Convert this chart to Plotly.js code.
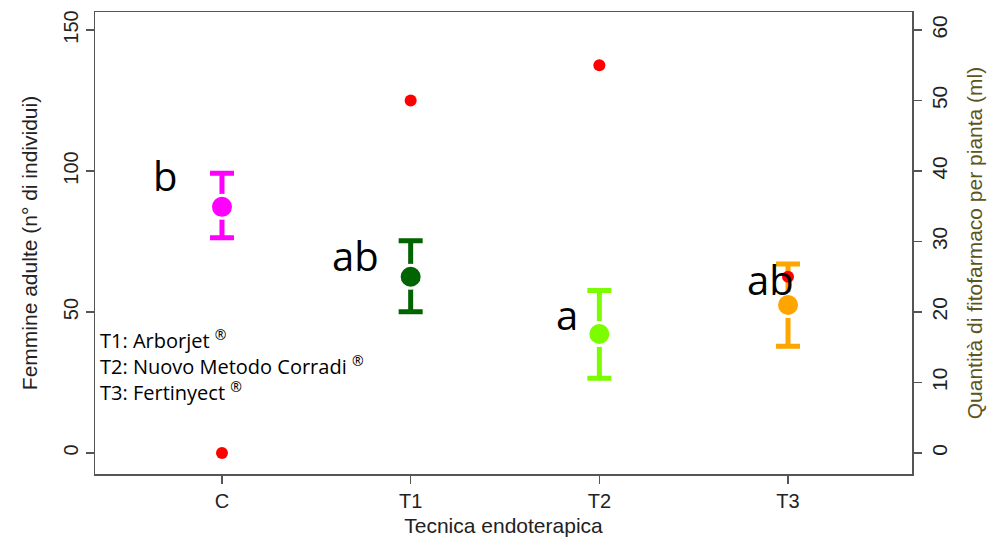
<!DOCTYPE html>
<html><head><meta charset="utf-8">
<script src="https://cdn.plot.ly/plotly-3.0.1.min.js"></script>
<style>html,body{margin:0;padding:0;background:#fff}#chart{width:989px;height:537px}</style>
</head><body><div id="chart"></div>
<script>
var categories = ["C", "T1", "T2", "T3"];
var catIndex = [0, 1, 2, 3];
var meanFemale = [87.3, 62.5, 42.2, 52.5];
var upperFemale = [99.2, 75.3, 57.6, 67.0];
var lowerFemale = [76.3, 50.1, 26.5, 37.9];
var doseMl = [0, 50, 55, 25];
var groupColors = ["#FF00FF", "#006400", "#7CFC00", "#FFA500"];
var letters = ["b", "ab", "a", "ab"];
var legendLines = ["T1: Arborjet <sup>®</sup>", "T2: Nuovo Metodo Corradi <sup>®</sup>", "T3: Fertinyect <sup>®</sup>"];

var traces = [];
for (var i = 0; i < categories.length; i++) {
  traces.push({
    type: "scatter", mode: "markers", x: [catIndex[i]], y: [meanFemale[i]],
    xaxis: "x", yaxis: "y", showlegend: false, hoverinfo: "skip",
    marker: {color: groupColors[i], size: 23, line: {color: "#ffffff", width: 3}},
    error_y: {type: "data", symmetric: false,
      array: [upperFemale[i] - meanFemale[i]], arrayminus: [meanFemale[i] - lowerFemale[i]],
      color: groupColors[i], thickness: 5, width: 12}
  });
}
traces.push({
  type: "scatter", mode: "markers", x: catIndex, y: doseMl, xaxis: "x", yaxis: "y2",
  showlegend: false, hoverinfo: "skip", marker: {color: "#FF0000", size: 12}
});

var letterPos = [[-0.302, 98.5], [0.705, 70.2], [1.828, 49.2], [2.909, 61.5]];
var annotations = [];
for (var j = 0; j < letters.length; j++) {
  annotations.push({xref: "x", yref: "y", x: letterPos[j][0], y: letterPos[j][1], text: letters[j],
    showarrow: false, font: {family: "Open Sans", size: 40, color: "#000"}});
}
annotations.push({xref: "paper", yref: "y", x: 0.004, y: 31, xanchor: "left", yanchor: "middle", align: "left",
  text: legendLines.join("<br>"), showarrow: false, font: {family: "Open Sans", size: 20, color: "#000"}});

var fam = "Liberation Sans, Arial";
var layout = {
  width: 989, height: 537,
  margin: {l: 95, r: 77, t: 12, b: 63},
  paper_bgcolor: "#fff", plot_bgcolor: "#fff",
  showlegend: false,
  xaxis: {range: [-0.673, 3.657], tickvals: catIndex, ticktext: categories,
    showgrid: false, zeroline: false, showline: true, mirror: true, linecolor: "#555", linewidth: 1.5,
    ticks: "outside", ticklen: 8, tickwidth: 1.5, tickcolor: "#555", tickfont: {family: fam, size: 20, color: "#222"},
    title: {text: "Tecnica endoterapica", font: {family: fam, size: 21, color: "#222"}, standoff: 8}},
  yaxis: {range: [-7.45, 156.4], tickvals: [0, 50, 100, 150], tickangle: -90,
    showgrid: false, zeroline: false, showline: true, linecolor: "#555", linewidth: 1.5,
    ticks: "outside", ticklen: 8, tickwidth: 1.5, tickcolor: "#555", tickfont: {family: fam, size: 20, color: "#222"},
    title: {text: "Femmine adulte (n° di individui)", font: {family: fam, size: 21, color: "#222"}, standoff: 16}},
  yaxis2: {overlaying: "y", side: "right", range: [-2.98, 62.56], tickvals: [0, 10, 20, 30, 40, 50, 60], tickangle: -90,
    showgrid: false, zeroline: false, showline: true, linecolor: "#555", linewidth: 1.5,
    ticks: "outside", ticklen: 8, tickwidth: 1.5, tickcolor: "#555", tickfont: {family: fam, size: 21, color: "#222"},
    title: {text: "Quantità di fitofarmaco per pianta (ml)", font: {family: fam, size: 21, color: "#5c5520"}, standoff: 17}},
  annotations: annotations
};
Plotly.newPlot("chart", traces, layout, {staticPlot: true});
</script></body></html>
